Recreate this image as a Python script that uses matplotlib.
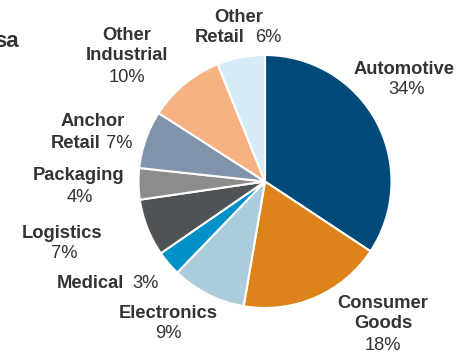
import matplotlib.pyplot as plt

plt.rcParams['font.family'] = ['Liberation Sans', 'DejaVu Sans']

sectors = ['Automotive', 'Consumer Goods', 'Electronics', 'Medical', 'Logistics',
           'Packaging', 'Anchor Retail', 'Other Industrial', 'Other Retail']
shares = [34.3, 18.4, 9.5, 3.2, 7.3, 4.0, 7.4, 9.8, 6.1]
pct_labels = ['34%', '18%', '9%', '3%', '7%', '4%', '7%', '10%', '6%']
colors = ['#004a7a', '#dd8319', '#abcddb', '#0090c8', '#4f5355',
          '#8c8c8c', '#8193ab', '#f6b283', '#d6ecf8']

W, H = 463, 354
TXT = '#333333'
FS = 13.2

# label lines in pixel coords (x, y from top): (text, bold, x, y, ha)
layout = {
    'Automotive': [('Automotive', True, 404, 69, 'center'), ('34%', False, 407, 90, 'center')],
    'Consumer Goods': [('Consumer', True, 383, 303, 'center'), ('Goods', True, 383, 323, 'center'),
                       ('18%', False, 383, 345, 'center')],
    'Electronics': [('Electronics', True, 168, 314, 'center'), ('9%', False, 168, 334, 'center')],
    'Medical': [('Medical', True, 124, 283, 'right'), ('3%', False, 132, 283, 'left')],
    'Logistics': [('Logistics', True, 62, 233, 'center'), ('7%', False, 64, 254, 'center')],
    'Packaging': [('Packaging', True, 79, 175, 'center'), ('4%', False, 80, 197, 'center')],
    'Anchor Retail': [('Anchor', True, 93, 122, 'center'), ('Retail', True, 101, 143, 'right'),
                      ('7%', False, 106, 143, 'left')],
    'Other Industrial': [('Other', True, 127, 35, 'center'), ('Industrial', True, 127, 55, 'center'),
                         ('10%', False, 127, 77, 'center')],
    'Other Retail': [('Other', True, 239, 17, 'center'), ('Retail', True, 244, 38, 'right'),
                     ('6%', False, 255, 38, 'left')],
}

fig = plt.figure(figsize=(W / 100, H / 100), dpi=100)
ax = fig.add_axes([0, 0, 1, 1])
ax.pie(shares, colors=colors, startangle=90, counterclock=False,
       center=(265, H - 181.5), radius=126.5,
       wedgeprops=dict(edgecolor='white', linewidth=1.5))
ax.set_xlim(0, W)
ax.set_ylim(0, H)
ax.set_aspect('equal')
ax.axis('off')

for name in sectors:
    for s, bold, x, y, ha in layout[name]:
        ax.text(x, H - y, s, ha=ha, va='center', fontsize=FS, color=TXT,
                fontweight='bold' if bold else 'normal')

# title fragment, cropped at the left edge as in the source slide
ax.text(19, H - 47, 'sa', ha='right', va='baseline', fontsize=16, color=TXT,
        fontweight='bold', clip_on=False)

fig.savefig('out.png', dpi=100)
